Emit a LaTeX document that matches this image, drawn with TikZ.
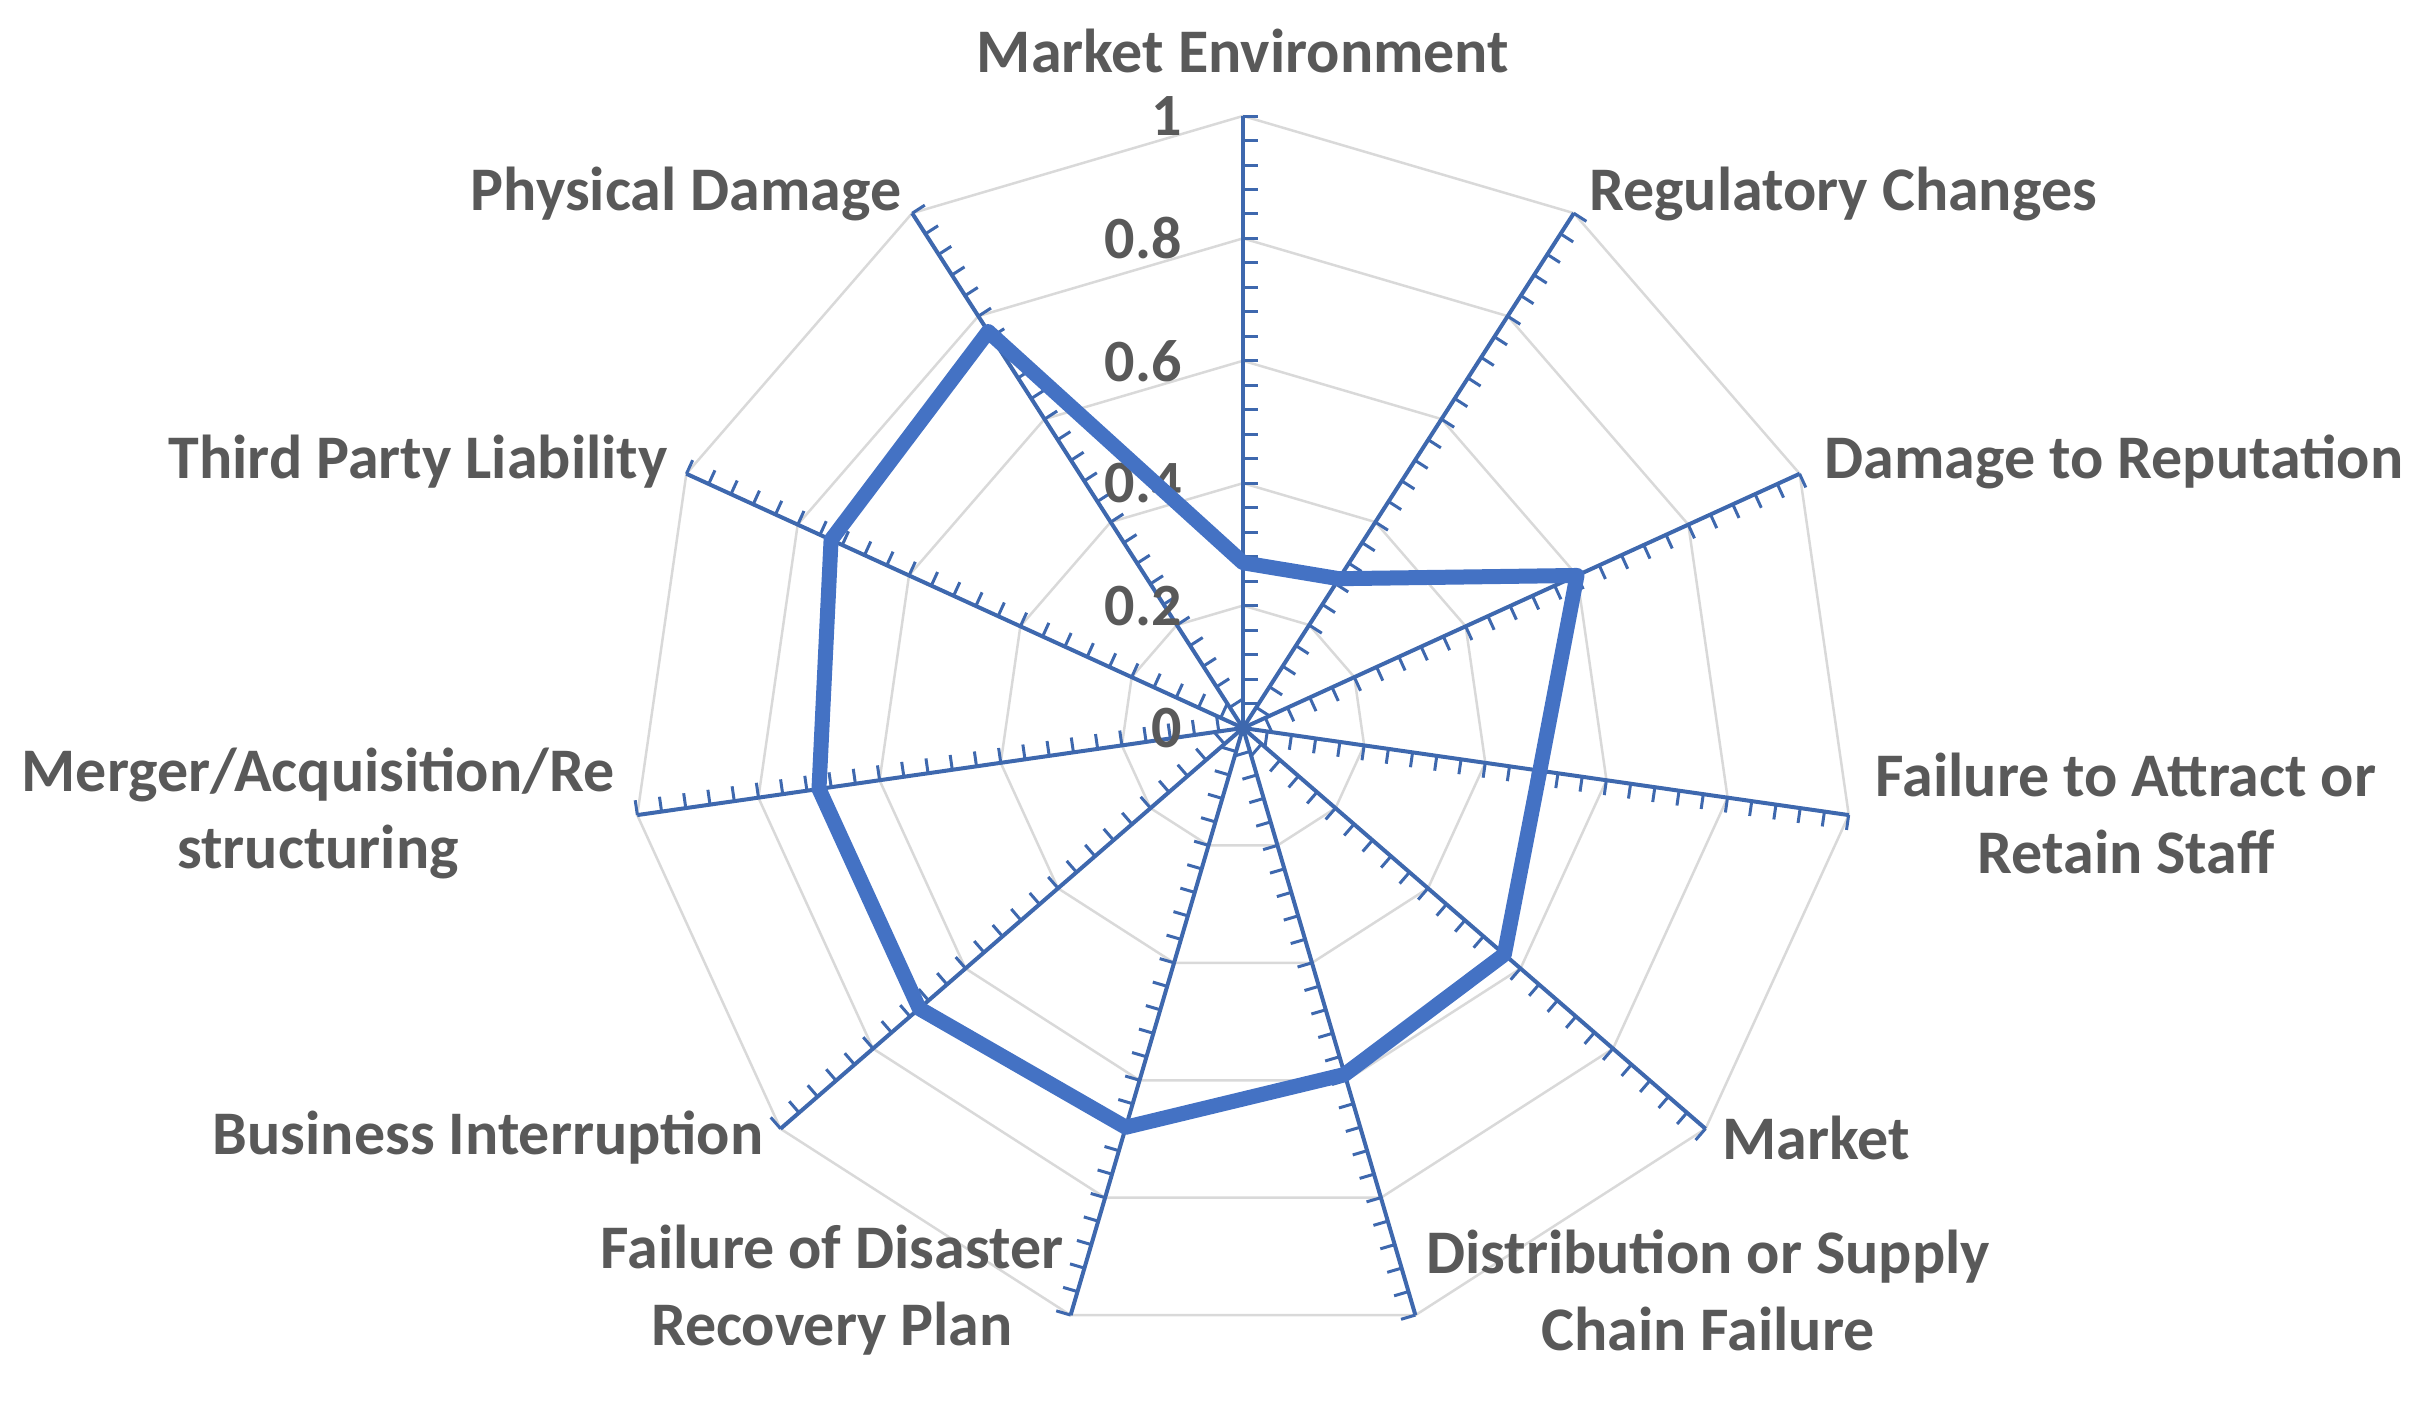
\documentclass[tikz,border=0pt]{standalone}
\usepackage{fontspec}
\setmainfont{Carlito}
\usetikzlibrary{calc}
\definecolor{axblue}{HTML}{3E68AE}
\definecolor{datblue}{HTML}{4472C4}
\definecolor{txt}{HTML}{595959}
\definecolor{grid}{HTML}{D9D9D9}
\begin{document}
\begin{tikzpicture}[x=1pt,y=1pt,
  lab/.style={font=\fontsize{62}{77}\selectfont\bfseries, text=txt, align=center, inner sep=0},
  num/.style={font=\fontsize{60}{72}\selectfont\bfseries, text=txt, anchor=east, inner sep=0},
  gridline/.style={draw=grid, line width=2.5pt},
  axisline/.style={draw=axblue, line width=4pt},
  tickline/.style={draw=axblue, line width=3pt},
  dataline/.style={draw=datblue, line width=15pt, line join=round}]
\useasboundingbox (0,0) rectangle (2428,1425);
\coordinate (c) at (1243,697);
\def\R{612}
% grid polygons
\foreach \r in {0.2,0.4,0.6,0.8,1.0}{
  \draw[gridline] ($(c)+(90:\r*\R)$) \foreach \k in {1,...,10}{ -- ($(c)+({90-\k*360/11}:\r*\R)$)} -- cycle;
}
% axes and ticks
\foreach \k in {0,...,10}{
  \pgfmathsetmacro{\a}{90-\k*360/11}
  \coordinate (e\k) at ($(c)+(\a:\R)$);
  \draw[axisline] (c) -- (e\k);
  \foreach \t in {1,...,25}{
    \draw[tickline] ($(c)+(\a:\t*0.04*\R)$) -- ++(\a-90:15);
  }
}
% value labels
\foreach \v/\s in {0/0,0.2/0.2,0.4/0.4,0.6/0.6,0.8/0.8,1/1}{
  \node[num] (n\s) at (1182,{697+\v*\R}) {\s};
}
% data
\foreach \k/\v in {0/0.27,1/0.29,2/0.6,3/0.49,4/0.565,5/0.59,6/0.68,7/0.7,8/0.7,9/0.74,10/0.77}{
  \coordinate (d\k) at ($(c)+({90-\k*360/11}:\v*\R)$);
}
\draw[dataline] (d0) -- (d1) -- (d2) -- (d3) -- (d4) -- (d5) -- (d6) -- (d7) -- (d8) -- (d9) -- (d10) -- cycle;
% category labels
\node[lab] (l0) at (1243,1374) {Market Environment};
\node[lab] (l1) at (1843,1231) {Regulatory Changes};
\node[lab] (l2) at (2114,963) {Damage to Reputation};
\node[lab] (l3) at (2126,612) {Failure to Attract or\\Retain Staff};
\node[lab] (l4) at (1816,287) {Market};
\node[lab] (l5) at (1708,135) {Distribution or Supply\\Chain Failure};
\node[lab] (l6) at (832,135) {Failure of Disaster\\Recovery Plan};
\node[lab] (l7) at (488,287) {Business Interruption};
\node[lab] (l8) at (318,612) {Merger/Acquisition/Re\\structuring};
\node[lab] (l9) at (418,963) {Third Party Liability};
\node[lab] (l10) at (686,1231) {Physical Damage};
\end{tikzpicture}
\end{document}
